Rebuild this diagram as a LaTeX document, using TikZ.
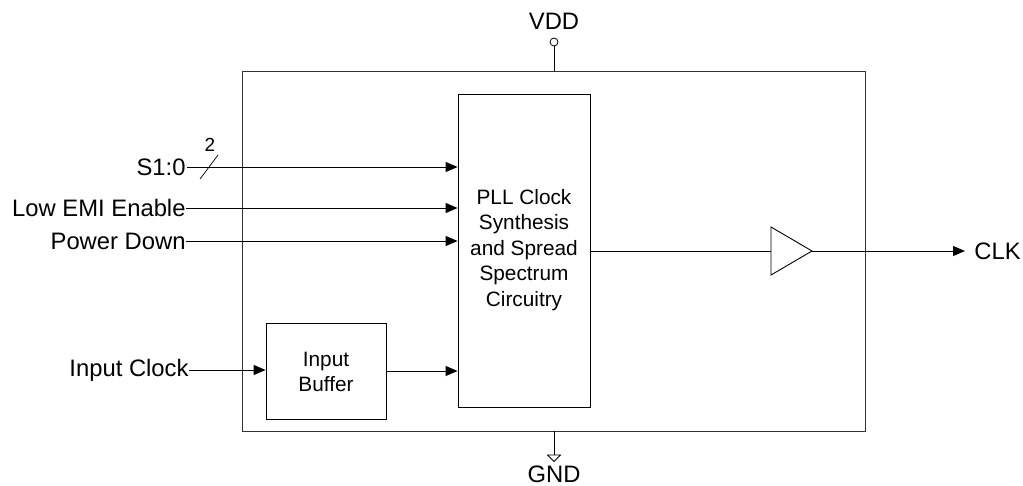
\documentclass[tikz,border=0pt]{standalone}
\usepackage{fontspec}
\setmainfont{Liberation Sans}
\usetikzlibrary{arrows.meta}
\begin{document}
\begin{tikzpicture}[x=1pt,y=-1pt,
  line width=0.9pt,
  outerlbl/.style={inner sep=0pt,font=\fontsize{23.8}{27}\selectfont},
  innerlbl/.style={inner sep=0pt,align=center,font=\fontsize{20.8}{25.5}\selectfont},
  blk/.style={draw,inner sep=0pt},
  sig/.style={-{Triangle[length=12pt,width=10pt]}}
]
\useasboundingbox (0,0) rectangle (1023,486);
% outer chip box
\node[blk,minimum width=623pt,minimum height=360pt,draw=black!80] (chip) at (553.5,251) {};
% PLL block
\node[blk,minimum width=132pt,minimum height=313pt] (pll) at (524,250.5) {};
\node[innerlbl] (plltxt) at (524,250) {PLL Clock\\Synthesis\\and Spread\\Spectrum\\Circuitry};
% input buffer
\node[blk,minimum width=120pt,minimum height=96pt] (ibuf) at (326,371) {};
\node[innerlbl] (ibuftxt) at (326,372) {Input\\Buffer};
% labels left
\node[outerlbl,anchor=east] (s10) at (186,167) {S1:0};
\node[outerlbl,anchor=east] (emi) at (186,208) {Low EMI Enable};
\node[outerlbl,anchor=east] (pd) at (186,241) {Power Down};
\node[outerlbl,anchor=east] (iclk) at (189,370) {Input Clock};
% connectors into PLL
\draw[sig] (s10.east) ++(1,0) -- (pll.west |- 0,167);
\draw[sig] (emi.east) -- (pll.west |- 0,208);
\draw[sig] (pd.east) -- (pll.west |- 0,241);
\draw[sig] (iclk.east) -- (ibuf.west |- 0,370);
\draw[sig] (ibuf.east |- 0,371) -- (pll.west |- 0,371);
% bus slash
\coordinate (sl1) at (200,179);
\coordinate (sl2) at (218,155);
\draw[line width=0.7pt] (sl1) -- (sl2);
\node[inner sep=0pt,font=\fontsize{19}{20}\selectfont] (bw) at (210,145) {2};
% output amplifier
\coordinate (ampin) at (771,251);
\coordinate (amptip) at (812,251);
\draw (771,227) -- (amptip) -- (771,275) -- cycle;
\draw (pll.east |- 0,251) -- (ampin);
\node[outerlbl,anchor=west] (clk) at (974,251) {CLK};
\coordinate (clkend) at (965,251);
\draw[sig] (amptip) -- (clkend);
% VDD
\node[outerlbl] (vdd) at (554,21) {VDD};
\node[draw,circle,minimum size=8pt,inner sep=0pt,line width=0.8pt] (vddpin) at (554,42) {};
\draw (vddpin.south) -- (chip.north -| vddpin);
% GND
\coordinate (gndtop) at (554,455);
\draw (chip.south -| gndtop) -- (gndtop);
\draw[line width=0.8pt] (547.5,455) -- (560.5,455) -- (554,461.5) -- cycle;
\node[outerlbl] (gnd) at (554,474) {GND};
\end{tikzpicture}
\end{document}
